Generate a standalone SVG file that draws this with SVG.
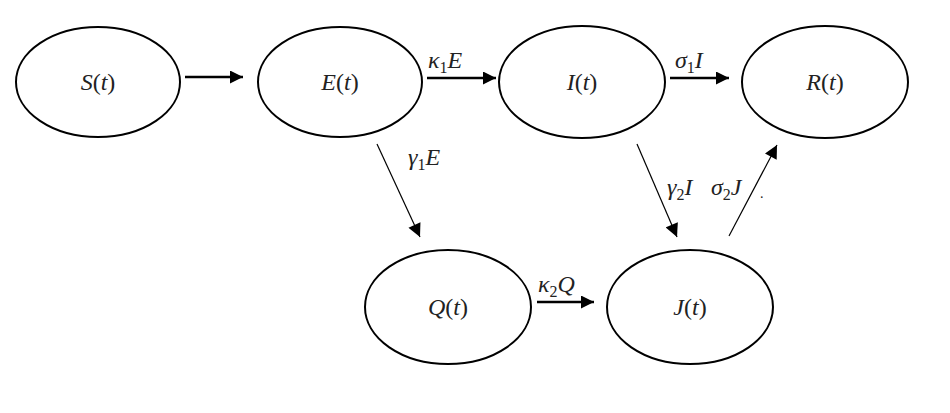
<svg xmlns="http://www.w3.org/2000/svg" width="950" height="413" viewBox="0 0 950 413">
<style>
.n{fill:none;stroke:#000;stroke-width:2}
.t{font-family:"Liberation Serif","Times New Roman",serif;font-size:24px;fill:#222}
.i{font-style:italic}
.s{font-size:16px;font-style:normal}
.h{stroke:#000;stroke-width:2.6;fill:none}
.d{stroke:#000;stroke-width:1.2;fill:none}
</style>
<defs>
<marker id="ah" viewBox="0 0 10 10" refX="10" refY="5" markerWidth="6" markerHeight="5" markerUnits="strokeWidth" orient="auto"><path d="M0,0L10,5L0,10z" fill="#000"/></marker>
<marker id="ad" viewBox="0 0 10 10" refX="10" refY="5" markerWidth="12" markerHeight="11" markerUnits="strokeWidth" orient="auto"><path d="M0,0L10,5L0,10z" fill="#000"/></marker>
</defs>
<rect width="950" height="413" fill="#fff"/>
<g id="S"><ellipse class="n" cx="98" cy="82" rx="82" ry="55"/><text class="t" x="98" y="90" text-anchor="middle"><tspan class="i">S</tspan>(<tspan class="i">t</tspan>)</text></g>
<g id="E"><ellipse class="n" cx="340" cy="82" rx="82" ry="55"/><text class="t" x="340" y="90" text-anchor="middle"><tspan class="i">E</tspan>(<tspan class="i">t</tspan>)</text></g>
<g id="I"><ellipse class="n" cx="582" cy="82" rx="83" ry="56"/><text class="t" x="582" y="90" text-anchor="middle"><tspan class="i">I</tspan>(<tspan class="i">t</tspan>)</text></g>
<g id="R"><ellipse class="n" cx="825" cy="82" rx="83" ry="56"/><text class="t" x="825" y="90" text-anchor="middle"><tspan class="i">R</tspan>(<tspan class="i">t</tspan>)</text></g>
<g id="Q"><ellipse class="n" cx="448" cy="307" rx="83" ry="57"/><text class="t" x="448" y="315" text-anchor="middle"><tspan class="i">Q</tspan>(<tspan class="i">t</tspan>)</text></g>
<g id="J"><ellipse class="n" cx="690" cy="307" rx="83" ry="57"/><text class="t" x="690" y="315" text-anchor="middle"><tspan class="i">J</tspan>(<tspan class="i">t</tspan>)</text></g>
<g id="connectors">
<line class="h" x1="185" y1="77" x2="243" y2="77" marker-end="url(#ah)"/>
<line class="h" x1="427" y1="78" x2="496" y2="78" marker-end="url(#ah)"/>
<line class="h" x1="670" y1="78" x2="729" y2="78" marker-end="url(#ah)"/>
<line class="h" x1="537" y1="302" x2="594" y2="302" marker-end="url(#ah)"/>
<line class="d" x1="377" y1="144" x2="420" y2="237" marker-end="url(#ad)"/>
<line class="d" x1="637" y1="144" x2="677" y2="237" marker-end="url(#ad)"/>
<line class="d" x1="729" y1="236" x2="777" y2="145" marker-end="url(#ad)"/>
<text class="t i" x="428" y="68">κ<tspan class="s" dy="5">1</tspan><tspan dy="-5">E</tspan></text>
<text class="t i" x="675" y="68">σ<tspan class="s" dy="5">1</tspan><tspan dy="-5">I</tspan></text>
<text class="t i" x="538" y="292">κ<tspan class="s" dy="5">2</tspan><tspan dy="-5">Q</tspan></text>
<text class="t i" x="408" y="165">γ<tspan class="s" dy="5">1</tspan><tspan dy="-5">E</tspan></text>
<text class="t i" x="667" y="195">γ<tspan class="s" dy="5">2</tspan><tspan dy="-5">I</tspan></text>
<text class="t i" x="711" y="195">σ<tspan class="s" dy="5">2</tspan><tspan dy="-5">J</tspan></text>
<text class="t" x="760" y="198" style="font-size:14px">.</text>
</g>
</svg>
